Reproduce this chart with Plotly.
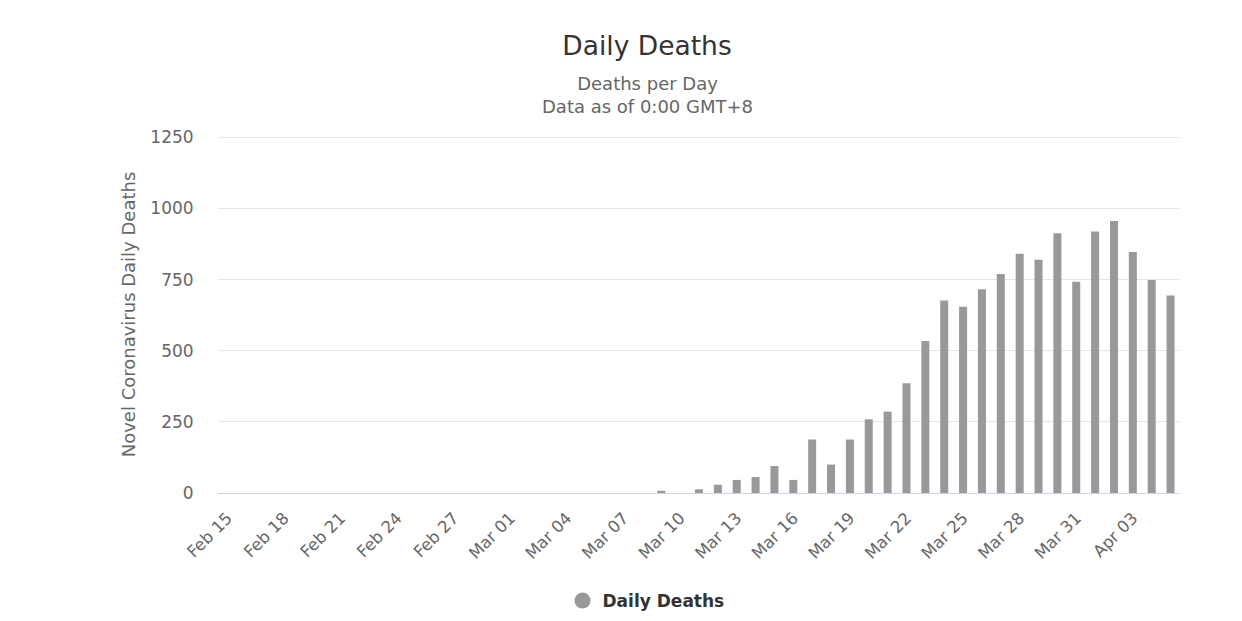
import pandas as pd
import plotly.graph_objects as go

# Categories: daily dates Feb 15 – Apr 05 (2020)
dates = pd.date_range("2020-02-15", "2020-04-05", freq="D")
categories = [d.strftime("%b %d") for d in dates]

# Daily deaths (Feb 15 ... Apr 05)
daily_deaths = [
    0, 0, 0, 0, 0, 0, 0, 0, 0, 0,          # Feb 15 - Feb 24
    0, 0, 0, 0, 0,                          # Feb 25 - Feb 29
    0, 0, 0, 0, 0, 0, 0, 0,                 # Mar 01 - Mar 08
    8, 0, 13, 29, 46, 56, 95, 46,           # Mar 09 - Mar 16
    188, 100, 188, 259, 286, 386, 534, 677, # Mar 17 - Mar 24
    655, 716, 770, 841, 820, 913, 743,      # Mar 25 - Mar 31
    919, 956, 847, 749, 694,                # Apr 01 - Apr 05
]

tick_labels = categories[::3]
y_ticks = [0, 250, 500, 750, 1000, 1250]

FONT = "DejaVu Sans"
BAR_COLOR = "#999999"

PLOT_TOP = 135.6
PLOT_BOTTOM = 493
PLOT_H = PLOT_BOTTOM - PLOT_TOP

fig = go.Figure()
fig.add_trace(go.Bar(
    x=categories, y=daily_deaths, name="Daily Deaths",
    marker=dict(color=BAR_COLOR, line=dict(width=0)),
    showlegend=False,
))
# legend-only entry with a circle symbol
fig.add_trace(go.Scatter(
    x=[None], y=[None], mode="markers", name="Daily Deaths",
    marker=dict(symbol="circle", size=17, color=BAR_COLOR),
    showlegend=True,
))

fig.update_layout(
    width=1242, height=621,
    margin=dict(l=218, r=62, t=PLOT_TOP, b=621 - PLOT_BOTTOM, autoexpand=False),
    paper_bgcolor="white", plot_bgcolor="white",
    font=dict(family=FONT, color="#666666"),
    bargap=0.575,
    title=dict(
        text="Daily Deaths", font=dict(family=FONT, size=26.5, color="#333333"),
        x=647 / 1242, xref="container", xanchor="center",
        y=1 - 46 / 621, yref="container", yanchor="middle",
    ),
    annotations=[dict(
        text="Deaths per Day<br>Data as of 0:00 GMT+8",
        xref="paper", yref="paper", x=(647 - 218) / 962,
        y=(PLOT_BOTTOM - 94.5) / PLOT_H,
        xanchor="center", yanchor="middle", showarrow=False,
        font=dict(family=FONT, size=18, color="#666666"),
    )],
    legend=dict(
        orientation="h", x=(646 - 218) / 962, xanchor="center",
        yref="container", y=1 - 601 / 621, yanchor="middle",
        font=dict(family=FONT, size=17, color="#333333", weight="bold"),
        itemsizing="trace",
    ),
    xaxis=dict(
        type="category", categoryorder="array", categoryarray=categories,
        range=[-0.5, len(categories) - 0.5],
        tickmode="array", tickvals=tick_labels, ticktext=tick_labels,
        tickangle=-45, tickfont=dict(family=FONT, size=16.5, color="#666666"),
        showline=True, linecolor="#ccd6eb", linewidth=1,
        showgrid=False, zeroline=False,
        ticks="outside", ticklen=8, tickcolor="rgba(0,0,0,0)",
        automargin=False,
    ),
    yaxis=dict(
        range=[0, 1255], tickmode="array", tickvals=y_ticks,
        tickfont=dict(family=FONT, size=17, color="#666666"),
        showgrid=True, gridcolor="#e6e6e6", gridwidth=1,
        zeroline=False, showline=False,
        ticks="outside", ticklen=20, tickcolor="rgba(0,0,0,0)",
        automargin=False,
        title=dict(text="Novel Coronavirus Daily Deaths",
                   font=dict(family=FONT, size=18, color="#666666"),
                   standoff=10),
    ),
)

fig.write_html("out.html")
